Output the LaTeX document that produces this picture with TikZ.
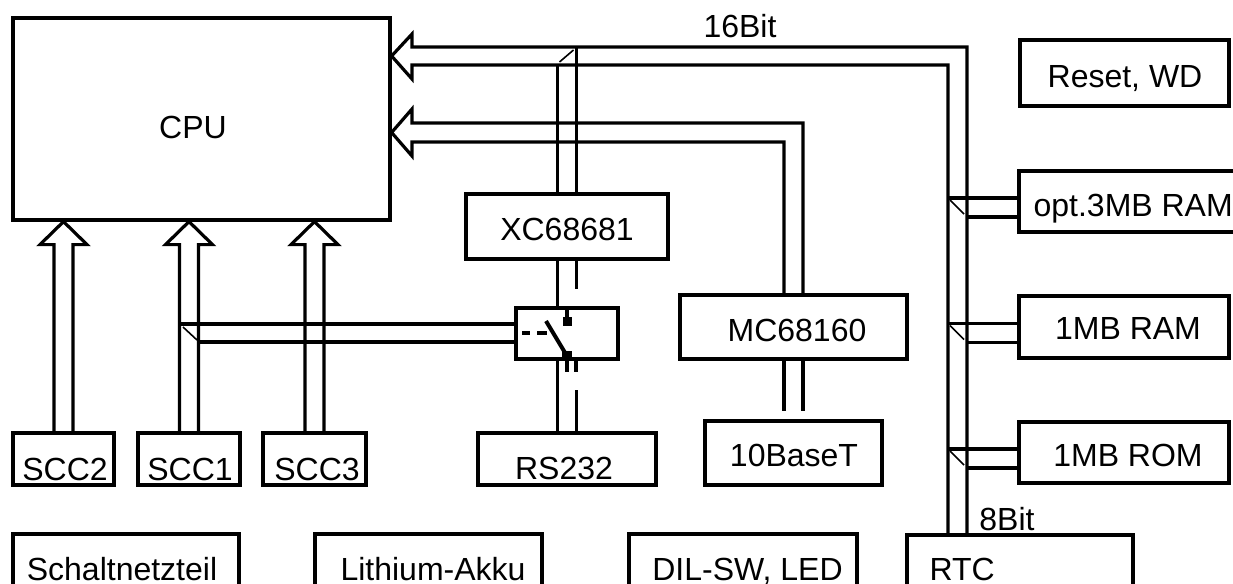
\documentclass[tikz,border=0pt]{standalone}
\usepackage{fontspec}
\setmainfont{Liberation Sans}
\usetikzlibrary{fit,calc}

\begin{document}
\begin{tikzpicture}[x=0.5pt, y=-0.5pt, line width=1.6pt, every node/.style={font=\fontsize{16}{19}\selectfont, inner sep=0pt, text height=11.5pt, text depth=0pt}, blk/.style={draw, line width=1.6pt, inner sep=0pt}, tick/.style={line width=0.8pt}]
	\useasboundingbox (0,0) rectangle (1233,584);
	\clip (0,0) rectangle (1233,584);
	% blocks
	\node[blk, fit={(13,18) (390,220)}] (cpu) {}; \node (cpuL) at (193,127) {CPU};
	\node[blk, fit={(466,194) (668,259)}] (xc) {}; \node (xcL) at (567,228.5) {XC68681};
	\node[blk, fit={(516,308) (618,359)}] (sw) {};
	\node[blk, fit={(680,295) (907,359)}] (mc) {}; \node (mcL) at (797,329.5) {MC68160};
	\node[blk, fit={(705,421) (882,485)}] (tb) {}; \node (tbL) at (794,455) {10BaseT};
	\node[blk, fit={(478,433) (656,485)}] (rs) {}; \node (rsL) at (564,467.5) {RS232};
	\node[blk, fit={(13,433) (114,485)}] (scc2) {}; \node (scc2L) at (65,468.5) {SCC2};
	\node[blk, fit={(138,433) (240,485)}] (scc1) {}; \node (scc1L) at (190,468.5) {SCC1};
	\node[blk, fit={(263,433) (366,485)}] (scc3) {}; \node (scc3L) at (317,468.5) {SCC3};
	\node[blk, fit={(13,534) (239,610)}] (psu) {}; \node (psuL) at (122,568.5) {Schaltnetzteil};
	\node[blk, fit={(315,534) (542,610)}] (akku) {}; \node (akkuL) at (433,568.5) {Lithium-Akku};
	\node[blk, fit={(629,534) (857,610)}] (dil) {}; \node (dilL) at (747.5,568.5) {DIL-SW, LED};
	\node[blk, fit={(907,535) (1133,610)}] (rtc) {}; \node[anchor=west] (rtcL) at (928,568.5) {RTC};
	\node[blk, fit={(1020,40) (1229,106)}] (rst) {}; \node (rstL) at (1125,76) {Reset, WD};
	\node[blk, fit={(1019,171) (1250,232)}] (ram3) {}; \node[anchor=west] (ram3L) at (1032,205) {opt.3MB RAM};
	\node[blk, fit={(1019,296) (1229,358)}] (ram1) {}; \node (ram1L) at (1128,328) {1MB RAM};
	\node[blk, fit={(1019,422) (1229,483)}] (rom) {}; \node (romL) at (1128,455) {1MB ROM};
	\node (b16) at (740,25.5) {16Bit};
	\node (b8) at (1007,518.5) {8Bit};
	% 16 bit bus
	\coordinate (bi) at (948,65); \coordinate (bo) at (967,47); \coordinate (tipA) at (0,56);
	\draw (bo |- rtc.north) -- (bo) -- (412,47) -- (412,34) -- (cpu.east |- tipA) -- (412,79) -- (412,65) -- (bi) -- (bi |- rtc.north);
	\foreach \m in {ram3, ram1, rom} {
		\path ($(\m.west)+(0,-3.5)$) coordinate (\m-a) ($(\m.west)+(0,15.5)$) coordinate (\m-b);
		\draw (\m-a -| bi) -- (\m-a); \draw (\m-b -| bo) -- (\m-b);
		\draw[tick] ($(\m-a -| bi)+(2,2)$) -- ($(\m-a -| bi)+(16,16)$);
	}
	% second bus to MC68160
	\coordinate (ci) at (784,142); \coordinate (co) at (803,123); \coordinate (tipB) at (0,132.5);
	\draw (ci |- mc.north) -- (ci) -- (412,142) -- (412,156) -- (cpu.east |- tipB) -- (412,109) -- (412,123) -- (co) -- (co |- mc.north);
	\draw (ci |- mc.south) -- ($(ci |- tb.north)+(0,-8)$); \draw (co |- mc.south) -- ($(co |- tb.north)+(0,-8)$);
	% branch to XC68681
	\coordinate (xa) at ($(xc.north |- bi)+(-9.5,0)$); \coordinate (xb) at ($(xc.north |- bo)+(9.5,0)$);
	\draw (xa) -- (xa |- xc.north); \draw (xb) -- (xb |- xc.north);
	\draw[tick] ($(xa)+(2,-3)$) -- ($(xb)+(-3,3)$);
	\draw ($(xc.south)+(-9.5,0)$) -- ($(sw.north)+(-9.5,0)$); \draw ($(xc.south)+(9.5,0)$) -- ++(0,28);
	% switch
	\draw (567,308) -- (567,318); \fill (563,317) rectangle (572,326);
	\draw[line width=2pt] (546,321) -- (567,356); \fill (562,351) rectangle (572,361);
	\draw (522,333) -- (530,333) (537,333) -- (547,333);
	\draw[line width=2pt] (567,359) -- (567,372); \draw (576,359) -- (576,372);
	\draw ($(sw.south)+(-9.5,0)$) -- ($(rs.north)+(-9.5,0)$); \draw ($(rs.north)+(9.5,0)$) -- ++(0,-41);
	% SCC arrows
	\foreach \s in {scc2, scc1, scc3} {
		\draw ($(\s.north)+(-9.5,0)$) -- ($(\s.north |- cpu.south)+(-9.5,23)$) -- ($(\s.north |- cpu.south)+(-23.5,23)$) -- (\s.north |- cpu.south) -- ($(\s.north |- cpu.south)+(23.5,23)$) -- ($(\s.north |- cpu.south)+(9.5,23)$) -- ($(\s.north)+(9.5,0)$);
	}
	\coordinate (sa) at (179.5,324); \coordinate (sb) at (198.5,342);
	\draw (sa) -- (sw.west |- sa); \draw (sb) -- (sw.west |- sb);
	\draw[tick] (183,327) -- (197,340);
\end{tikzpicture}
\end{document}
